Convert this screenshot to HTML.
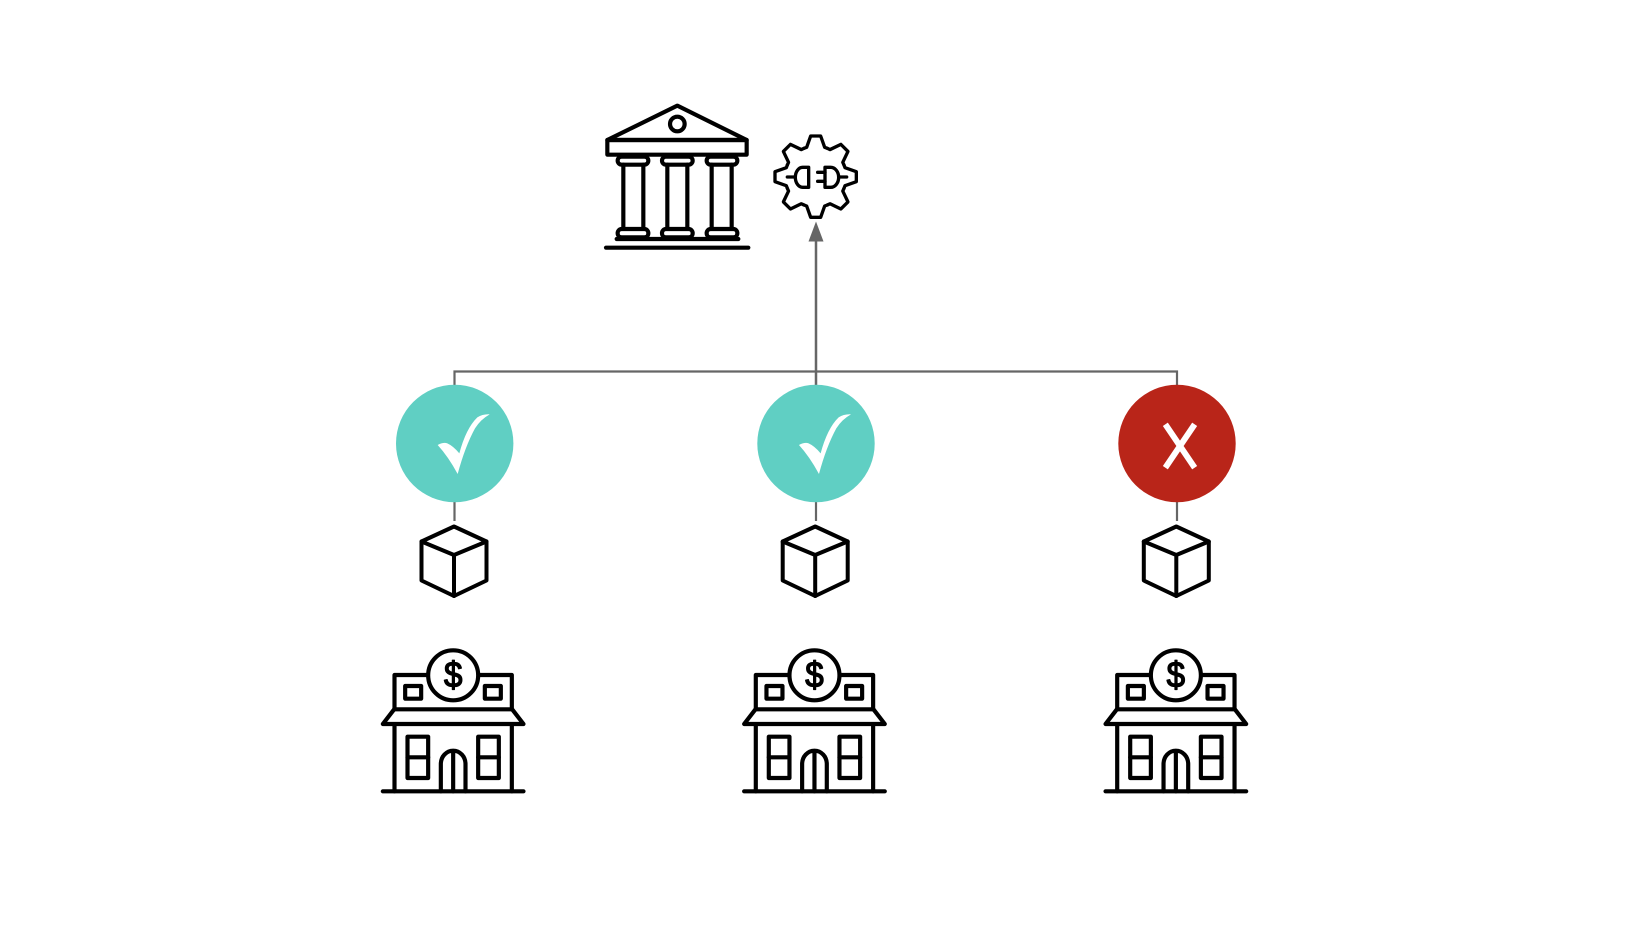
<!DOCTYPE html>
<html>
<head>
<meta charset="utf-8">
<title>Diagram</title>
<style>
html,body{margin:0;padding:0;background:#fff;width:1630px;height:938px;overflow:hidden}
svg{display:block}
</style>
</head>
<body>
<svg width="1630" height="938" viewBox="0 0 1630 938" xmlns="http://www.w3.org/2000/svg">
<defs>
  <g id="shop" transform="scale(0.33333)" fill="none" stroke="#000" stroke-width="12.500" stroke-linecap="round" stroke-linejoin="round">
    <path d="M70 484H492"/>
    <path d="M105 285V484M457 285V484"/>
    <path d="M70 282H492L458 238H104Z"/>
    <path d="M205 135H105V238M357 135H457V238"/>
    <circle cx="281" cy="136" r="75" fill="#fff"/>
    <text transform="translate(281 171) scale(0.92 1)" text-anchor="middle" font-family="'Liberation Sans',sans-serif" font-size="108" fill="#000" stroke="#000" stroke-width="4">$</text>
    <rect x="137" y="168" width="48" height="38"/>
    <rect x="376" y="168" width="48" height="38"/>
    <rect x="144" y="320" width="62" height="124"/>
    <path d="M144 382H206"/>
    <rect x="356" y="320" width="62" height="124"/>
    <path d="M356 382H418"/>
    <path d="M244 484V402A37 40 0 0 1 318 402V484M281 364V484"/>
  </g>
  <g id="cube" fill="none" stroke="#000" stroke-width="4" stroke-linejoin="round" stroke-linecap="round">
    <path d="M0 0L32.500 15V54L0 69.500L-32.500 54V15Z"/>
    <path d="M-32.500 15L0 28.500L32.500 15M0 28.500V69.500"/>
  </g>
  <path id="tooth" d="M-35 -85L-27 -88L-15 -122H15L27 -88L35 -85" fill="none"/>
  <path id="chk" d="M233 255Q250 246 262 250Q280 258 298 280Q318 205 352 172Q368 162 389 163Q362 178 345 205Q315 260 293 342Q265 290 233 255Z" fill="#fff"/>
</defs>

<rect width="1630" height="938" fill="#fff"/>

<!-- connectors -->
<g fill="none" stroke="#666" stroke-width="2.200">
  <path d="M454.500 385V371.500H1177V385"/>
  <path d="M454.500 500V521M816 500V521M1177 500V521"/>
</g>
<path d="M816 385V238" fill="none" stroke="#666" stroke-width="2.500"/>
<path d="M816 221.500L823.500 241.500H808.500Z" fill="#666"/>

<!-- status circles -->
<circle cx="454.700" cy="443.500" r="58.700" fill="#60cfc3"/>
<circle cx="816" cy="443.500" r="58.700" fill="#60cfc3"/>
<circle cx="1177" cy="443.500" r="58.700" fill="#b92519"/>

<use href="#chk" transform="translate(360 360) scale(0.33333)"/>
<use href="#chk" transform="translate(721.300 360) scale(0.33333)"/>
<g transform="translate(1090 360) scale(0.33333)">
  <path d="M226 193L314 323M314 193L226 323" fill="none" stroke="#fff" stroke-width="18"/>
</g>

<!-- cubes -->
<use href="#cube" transform="translate(454 526.500)"/>
<use href="#cube" transform="translate(815.200 526.500)"/>
<use href="#cube" transform="translate(1176.300 526.500)"/>

<!-- shops -->
<use href="#shop" transform="translate(359.500 630)"/>
<use href="#shop" transform="translate(720.800 630)"/>
<use href="#shop" transform="translate(1082.200 630)"/>

<!-- bank + gear -->
<g transform="translate(580 80) scale(0.33333)" fill="none" stroke="#000" stroke-width="12.500" stroke-linecap="round" stroke-linejoin="round">
  <path d="M292 77L500 180H82Z"/>
  <rect x="82" y="180" width="418" height="44"/>
  <circle cx="292" cy="132" r="22"/>
  <rect x="113" y="230" width="92" height="24" rx="12"/>
  <rect x="246" y="230" width="92" height="24" rx="12"/>
  <rect x="380" y="230" width="92" height="24" rx="12"/>
  <path d="M130 254V445M190 254V445M262 254V445M322 254V445M395 254V445M455 254V445"/>
  <rect x="113" y="447" width="92" height="25" rx="12"/>
  <rect x="246" y="447" width="92" height="25" rx="12"/>
  <rect x="380" y="447" width="92" height="25" rx="12"/>
  <path d="M110 477H475"/>
  <path d="M78 503H505"/>
  <g transform="translate(707 290)" stroke-width="10">
    <use href="#tooth"/>
    <use href="#tooth" transform="rotate(45)"/>
    <use href="#tooth" transform="rotate(90)"/>
    <use href="#tooth" transform="rotate(135)"/>
    <use href="#tooth" transform="rotate(180)"/>
    <use href="#tooth" transform="rotate(225)"/>
    <use href="#tooth" transform="rotate(270)"/>
    <use href="#tooth" transform="rotate(315)"/>
  </g>
  <g stroke-width="10">
    <path d="M686 262H668A22 30 0 0 0 668 322H686Z"/>
    <path d="M622 291H646"/>
    <path d="M735 262H752A24 30 0 0 1 752 322H735Z"/>
    <path d="M713 277H735M713 304H735M778 291H800"/>
  </g>
</g>
</svg>
</body>
</html>
